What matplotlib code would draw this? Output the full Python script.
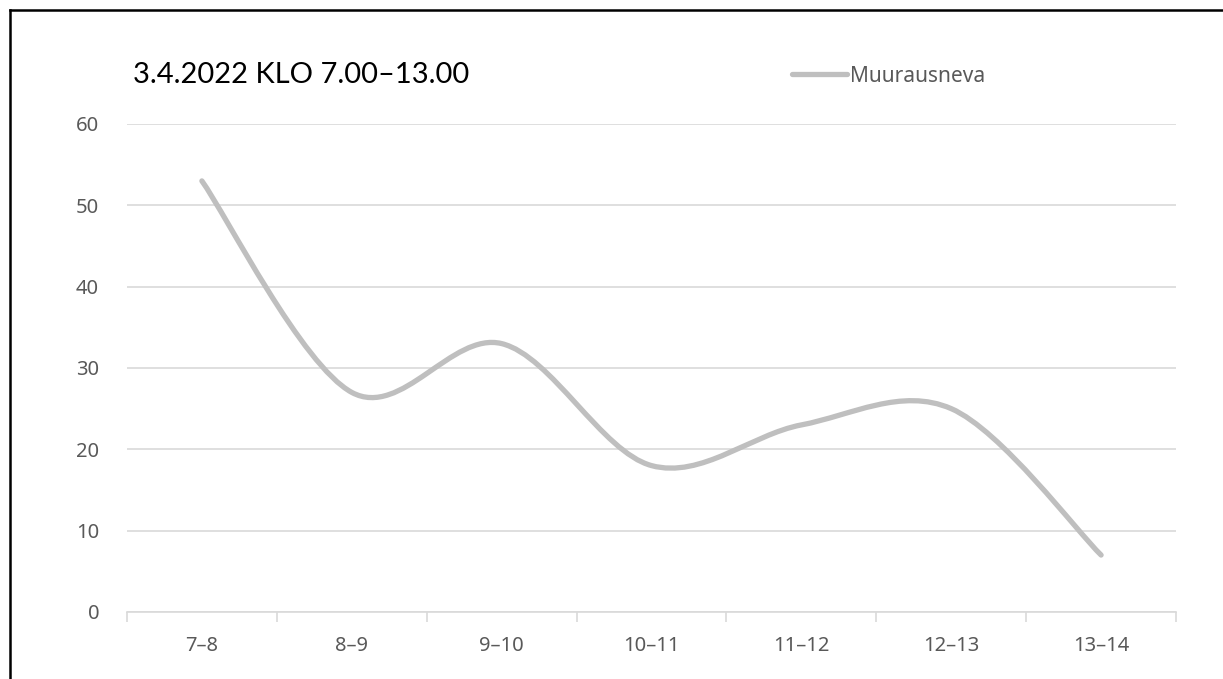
import matplotlib
matplotlib.use("Agg")

import matplotlib.pyplot as plt
from matplotlib.path import Path
from matplotlib.patches import PathPatch
from matplotlib.lines import Line2D

# tunnit ja havaitut määrät
hours = ["7–8", "8–9", "9–10", "10–11", "11–12", "12–13", "13–14"]
muurausneva = [53, 27, 33, 18, 23, 25, 7]
y_ticks = [0, 10, 20, 30, 40, 50, 60]

title = "3.4.2022 KLO 7.00–13.00"
series_name = "Muurausneva"

line_color = "#BFBFBF"
text_color = "#595959"
grid_color = "#D9D9D9"


def smooth_path(xs, ys):
    """Excelin tapainen pehmennetty viiva (Catmull-Rom -> Bezier)."""
    pts = list(zip(xs, ys))
    n = len(pts)
    verts = [pts[0]]
    codes = [Path.MOVETO]
    for i in range(n - 1):
        p0 = pts[i - 1] if i > 0 else pts[i]
        p1 = pts[i]
        p2 = pts[i + 1]
        p3 = pts[i + 2] if i + 2 < n else pts[i + 1]
        c1 = (p1[0] + (p2[0] - p0[0]) / 6, p1[1] + (p2[1] - p0[1]) / 6)
        c2 = (p2[0] - (p3[0] - p1[0]) / 6, p2[1] - (p3[1] - p1[1]) / 6)
        verts += [c1, c2, p2]
        codes += [Path.CURVE4] * 3
    return Path(verts, codes)


fig = plt.figure(figsize=(12.23, 6.79), dpi=100)
ax = fig.add_axes([0.1038, 0.0987, 0.8578, 0.7187])

x = list(range(len(hours)))
patch = PathPatch(smooth_path(x, muurausneva), facecolor="none",
                  edgecolor=line_color, lw=3.8, capstyle="round",
                  joinstyle="round", zorder=3)
ax.add_patch(patch)

ax.set_xlim(-0.5, len(hours) - 0.5)
ax.set_ylim(0, 60)

ax.set_yticks(y_ticks)
ax.set_yticklabels([str(v) for v in y_ticks])
ax.yaxis.grid(True, color=grid_color, lw=1.2)
ax.set_axisbelow(True)

ax.set_xticks(x)
ax.set_xticklabels(hours)
ax.set_xticks([i - 0.5 for i in range(len(hours) + 1)], minor=True)
ax.tick_params(axis="x", which="major", length=0, pad=17,
               labelsize=14.5, labelcolor=text_color)
ax.tick_params(axis="x", which="minor", length=7, width=1.2,
               color=grid_color)
ax.tick_params(axis="y", length=0, pad=20, labelsize=14.5,
               labelcolor=text_color)
for lbl in ax.get_xticklabels() + ax.get_yticklabels():
    lbl.set_family("Noto Sans")

for side in ["top", "right", "left"]:
    ax.spines[side].set_visible(False)
ax.spines["bottom"].set_color(grid_color)
ax.spines["bottom"].set_linewidth(1.2)

fig.text(133 / 1223, 1 - 75 / 679, title, fontsize=21, family="Lato",
         color="black", ha="left", va="center")

handle = Line2D([], [], color=line_color, lw=3.8, solid_capstyle="round")
fig.legend([handle], [series_name], loc="center left",
           bbox_to_anchor=(782 / 1223, 1 - 76 / 679), frameon=False,
           handlelength=2.6, handletextpad=0.15, borderpad=0,
           prop={"family": "Noto Sans", "size": 15}, labelcolor=text_color)

# reunaviivat ylhäällä ja vasemmalla
top_y = 1 - 10 / 679
left_x = 10 / 1223
fig.add_artist(Line2D([left_x, 1], [top_y, top_y], color="black", lw=1.8,
                      transform=fig.transFigure))
fig.add_artist(Line2D([left_x, left_x], [0, top_y], color="black", lw=1.8,
                      transform=fig.transFigure))

fig.savefig("out.png", dpi=100, facecolor="white")
